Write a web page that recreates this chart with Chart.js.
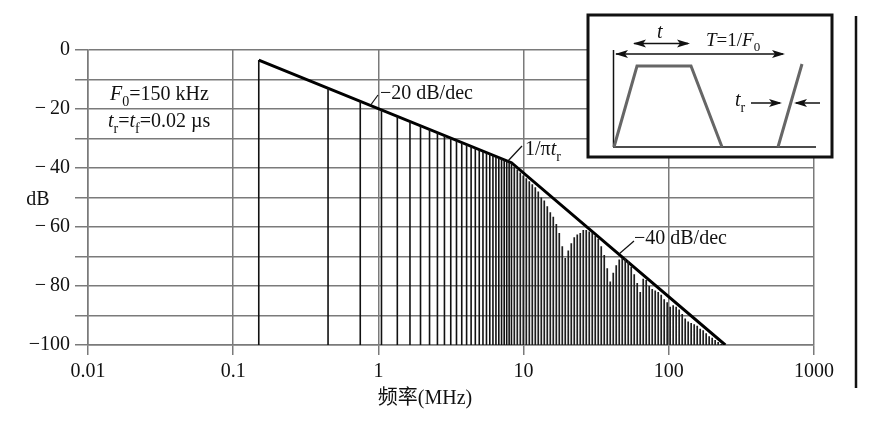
<!DOCTYPE html>
<html>
<head>
<meta charset="utf-8">
<script src="https://cdn.jsdelivr.net/npm/chart.js@4.4.1/dist/chart.umd.min.js"></script>
<style>
  html, body { margin: 0; padding: 0; background: #fff; }
  #wrap { width: 875px; height: 424px; }
</style>
</head>
<body>
<div id="wrap"><canvas id="chart" width="875" height="424"></canvas></div>
<script>
// 频谱数据 (MHz, dB)
const xTicks = [0.01, 0.1, 1, 10, 100, 1000];
const yTicks = [0, -20, -40, -60, -80, -100];
const yTickLabels = ['0', '\u2212\u200920', '\u2212\u200940', '\u2212\u200960', '\u2212\u200980', '\u2212100'];

// 包络线: -20 dB/dec 到 1/πtr，之后 -40 dB/dec
const envFreq = [0.15, 8.25, 245];
const envDb = [-3.4, -38.2, -100];

// 低频奇次谐波 (清楚可数的部分)
const lowFreq = [0.15, 0.45, 0.75, 1.05, 1.35, 1.65, 1.95, 2.25, 2.55, 2.85,
                 3.15, 3.45, 3.75, 4.05, 4.35, 4.65, 4.95, 5.25, 5.55, 5.85,
                 6.15, 6.45, 6.75, 7.05, 7.35, 7.65, 7.95, 8.25];
const lowDb = [-3.4, -12.9, -17.4, -20.3, -22.5, -24.2, -25.7, -26.9, -28.0, -29.0,
               -29.8, -30.6, -31.4, -32.0, -32.6, -33.2, -33.8, -34.3, -34.8, -35.2,
               -35.7, -36.1, -36.5, -36.8, -37.2, -37.6, -37.9, -38.2];

// 高频密集谱线 (从图上读出的顶点)
const denseFreq = [8.63, 9.05, 9.49, 9.95, 10.44, 10.95, 11.48, 12.04, 12.62, 13.24,
                   13.88, 14.56, 15.27, 16.01, 16.80, 17.61, 18.47, 19.36, 20.31, 21.30,
                   22.33, 23.42, 24.56, 25.76, 27.01, 28.33, 29.71, 31.15, 32.67, 34.26,
                   35.93, 37.68, 39.51, 41.44, 43.45, 45.57, 47.79, 50.12, 52.56, 55.12,
                   57.80, 60.61, 63.57, 66.66, 69.91, 73.31, 76.88, 80.62, 84.55, 88.66,
                   92.97, 97.5, 102.2, 107.2, 112.4, 117.9, 123.7, 129.7, 136.0, 142.6,
                   149.6, 156.9, 164.5, 172.5, 180.9, 189.7, 199.0, 208.6, 218.8, 229.4];
const denseDb = [-39.5, -40.5, -41.5, -42.5, -43.5, -44.5, -45.5, -46.5, -48, -50,
                 -51, -53, -55, -56.5, -59, -62, -66.5, -70.5, -68, -65.5,
                 -63.5, -62.5, -62, -61, -61, -61.5, -62, -63, -64, -66.5,
                 -69.5, -74, -78.5, -75.5, -73, -71, -70.5, -70.5, -71.5, -73.5,
                 -76, -79, -82, -77.5, -78, -80, -81, -81.5, -82, -83,
                 -84.5, -85.5, -87, -86.5, -87, -88, -89.5, -91, -92, -92.5,
                 -93, -93.5, -94.5, -95, -96, -97, -97.5, -98.3, -99, -99.7];

const FONT = "'Liberation Serif', 'Noto Sans CJK SC', serif";
const GRID = '#7a7a7a';

// 每条谱线: 底 -> 顶 -> 断开
function stems(freqs, dbs) {
    const pts = [];
    freqs.forEach((f, i) => {
        pts.push({x: f, y: -100});
        pts.push({x: f, y: dbs[i]});
        pts.push({x: f, y: null});
    });
    return pts;
}

// 带斜体/下标的文字
function rich(ctx, parts, x, y, size) {
    let cx = x;
    parts.forEach(([t, k]) => {
        const sub = k === 's';
        ctx.font = (k === 'i' ? 'italic ' : '') + (sub ? Math.round(size * 0.68) : size) + 'px ' + FONT;
        ctx.fillText(t, cx, sub ? y + size * 0.28 : y);
        cx += ctx.measureText(t).width;
    });
}

function arrowHead(ctx, x, y, dir) {
    ctx.beginPath();
    ctx.moveTo(x, y);
    ctx.lineTo(x - dir * 13, y - 4);
    ctx.lineTo(x - dir * 10, y);
    ctx.lineTo(x - dir * 13, y + 4);
    ctx.closePath();
    ctx.fill();
}

function line(ctx, x1, y1, x2, y2) {
    ctx.beginPath();
    ctx.moveTo(x1, y1);
    ctx.lineTo(x2, y2);
    ctx.stroke();
}

const decorations = {
    id: 'decorations',
    afterDraw(chart) {
        const ctx = chart.ctx;
        ctx.save();
        ctx.fillStyle = '#111';
        ctx.strokeStyle = '#111';
        ctx.textBaseline = 'alphabetic';
        ctx.textAlign = 'left';

        // 参数说明
        rich(ctx, [['F', 'i'], ['0', 's'], ['=150 kHz', 'n']], 110, 100, 20);
        rich(ctx, [['t', 'i'], ['r', 's'], ['=', 'n'], ['t', 'i'], ['f', 's'], ['=0.02 \u00b5s', 'n']], 108, 127, 20);

        // 斜率标注
        ctx.lineWidth = 1.2;
        line(ctx, 370, 106, 378, 95);
        rich(ctx, [['\u221220 dB/dec', 'n']], 380, 99, 20);
        line(ctx, 507, 162, 522, 146);
        rich(ctx, [['1/\u03c0', 'n'], ['t', 'i'], ['r', 's']], 525, 155, 20);
        line(ctx, 619, 254, 634, 241);
        rich(ctx, [['\u221240 dB/dec', 'n']], 634, 244, 20);

        // 坐标轴标题
        ctx.font = '20px ' + FONT;
        ctx.textAlign = 'center';
        ctx.fillText('频率(MHz)', 425, 404);
        ctx.fillText('dB', 38, 205);
        ctx.textAlign = 'left';

        // 右侧竖线
        ctx.lineWidth = 2.5;
        line(ctx, 856, 16, 856, 388);

        // 插图: 梯形波
        ctx.fillStyle = '#fff';
        ctx.fillRect(588, 15, 244, 142);
        ctx.lineWidth = 3;
        ctx.strokeRect(588, 15, 244, 142);
        ctx.fillStyle = '#111';
        ctx.lineWidth = 1.5;
        line(ctx, 613.5, 50, 613.5, 147);
        line(ctx, 613, 147, 816, 147);
        ctx.strokeStyle = '#666';
        ctx.lineWidth = 3;
        ctx.beginPath();
        ctx.moveTo(614, 147);
        ctx.lineTo(637, 66);
        ctx.lineTo(691, 66);
        ctx.lineTo(722, 147);
        ctx.moveTo(778, 147);
        ctx.lineTo(802, 64);
        ctx.stroke();
        ctx.strokeStyle = '#111';
        ctx.lineWidth = 1.5;
        // T 箭头
        line(ctx, 616, 54, 783, 54);
        arrowHead(ctx, 615, 54, -1);
        arrowHead(ctx, 785, 54, 1);
        // t 箭头
        line(ctx, 634, 43.5, 688, 43.5);
        arrowHead(ctx, 633, 43.5, -1);
        arrowHead(ctx, 690, 43.5, 1);
        rich(ctx, [['t', 'i']], 657, 38, 20);
        rich(ctx, [['T', 'i'], ['=1/', 'n'], ['F', 'i'], ['0', 's']], 706, 46, 19);
        // tr 箭头
        rich(ctx, [['t', 'i'], ['r', 's']], 735, 106, 20);
        line(ctx, 751, 103, 780, 103);
        arrowHead(ctx, 782, 103, 1);
        line(ctx, 796, 103, 820, 103);
        arrowHead(ctx, 794, 103, -1);
        ctx.restore();
    }
};

new Chart(document.getElementById('chart'), {
    type: 'scatter',
    data: {
        datasets: [
            {
                data: stems(lowFreq, lowDb),
                showLine: true, spanGaps: false,
                borderColor: '#111', borderWidth: 1.6,
                pointRadius: 0
            },
            {
                data: stems(denseFreq, denseDb),
                showLine: true, spanGaps: false,
                borderColor: '#1e1e1e', borderWidth: 1.7,
                pointRadius: 0
            },
            {
                data: envFreq.map((f, i) => ({x: f, y: envDb[i]})),
                showLine: true,
                borderColor: '#000', borderWidth: 3,
                pointRadius: 0
            }
        ]
    },
    options: {
        responsive: false,
        animation: false,
        devicePixelRatio: 1,
        layout: { padding: { left: 0, top: 50, right: 61, bottom: 0 } },
        plugins: { legend: { display: false }, tooltip: { enabled: false } },
        scales: {
            x: {
                type: 'logarithmic',
                min: 0.01, max: 1000,
                afterFit: (s) => { s.height = 79; },
                afterBuildTicks: (s) => { s.ticks = xTicks.map(v => ({value: v})); },
                grid: { color: GRID, lineWidth: 1.5, tickLength: 10 },
                border: { color: GRID, width: 1.5 },
                ticks: {
                    autoSkip: false, maxRotation: 0, padding: 5,
                    color: '#111', font: { family: FONT, size: 20 },
                    callback: (v) => String(v)
                }
            },
            y: {
                min: -100, max: 0,
                afterFit: (s) => { s.width = 88; },
                grid: { color: GRID, lineWidth: 1.5, tickLength: 13 },
                border: { color: GRID, width: 1.5 },
                ticks: {
                    stepSize: 10, padding: 5,
                    color: '#111', font: { family: FONT, size: 20 },
                    callback: (v) => {
                        const i = yTicks.indexOf(v);
                        return i >= 0 ? yTickLabels[i] : '';
                    }
                }
            }
        }
    },
    plugins: [decorations]
});
</script>
</body>
</html>
